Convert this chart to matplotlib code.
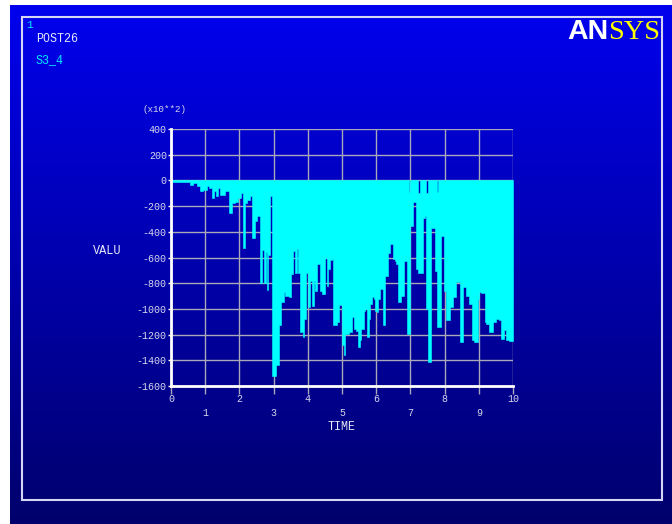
import numpy as np
import matplotlib
matplotlib.use("Agg")
import matplotlib.pyplot as plt
from matplotlib.patches import Rectangle

# ---------------- data (units of 10**2) ----------------
time = [0.00, 0.30, 0.55, 0.65, 0.75, 0.85, 0.95, 1.05, 1.10, 1.20,
        1.25, 1.33, 1.38, 1.44, 1.58, 1.70, 1.78, 1.87, 1.97, 2.04,
        2.10, 2.16, 2.22, 2.30, 2.36, 2.46, 2.52, 2.60, 2.67, 2.72,
        2.77, 2.80, 2.85, 2.90, 2.94, 3.08, 3.15, 3.22, 3.29, 3.33,
        3.45, 3.52, 3.57, 3.62, 3.67, 3.72, 3.78, 3.86, 3.88, 3.95,
        4.00, 4.07, 4.12, 4.17, 4.22, 4.26, 4.36, 4.41, 4.51, 4.55,
        4.60, 4.65, 4.70, 4.75, 4.85, 4.90, 5.00, 5.05, 5.10, 5.20,
        5.30, 5.35, 5.40, 5.46, 5.52, 5.56, 5.63, 5.68, 5.72, 5.78,
        5.83, 5.88, 5.93, 5.97, 6.02, 6.06, 6.11, 6.20, 6.25, 6.35,
        6.40, 6.49, 6.54, 6.59, 6.64, 6.72, 6.82, 6.91, 6.96, 7.00,
        7.08, 7.17, 7.22, 7.27, 7.37, 7.42, 7.45, 7.51, 7.61, 7.71,
        7.78, 7.81, 7.90, 7.98, 8.05, 8.15, 8.24, 8.34, 8.44, 8.53,
        8.63, 8.70, 8.80, 8.87, 8.97, 9.02, 9.07, 9.17, 9.21, 9.31,
        9.41, 9.50, 9.60, 9.65, 9.73, 9.80, 9.89, 10.00]
s3_min = [-12, -14, -34, -20, -40, -86, -78, -45, -60, -135,
          -80, -120, -60, -110, -85, -254, -176, -170, -140, -100,
          -524, -176, -150, -120, -445, -318, -280, -800, -540, -800,
          -560, -850, -580, -120, -1520, -1437, -1128, -948, -871, -897,
          -910, -730, -550, -717, -536, -717, -1180, -1218, -1077, -717,
          -987, -780, -974, -780, -858, -652, -858, -884, -600, -820,
          -691, -620, -608, -1128, -1100, -969, -1283, -1360, -1193, -1180,
          -1064, -1154, -1170, -1296, -1240, -1154, -1013, -1000, -1218, -1077,
          -961, -910, -925, -1013, -1025, -925, -845, -1128, -742, -562,
          -498, -614, -627, -652, -948, -897, -627, -1193, -1193, -356,
          -171, -691, -717, -717, -292, -279, -1000, -1412, -369, -704,
          -1141, -1141, -433, -858, -1090, -987, -910, -794, -1257, -832,
          -897, -961, -1244, -1257, -923, -871, -880, -1103, -1116, -1180,
          -1103, -1077, -1090, -1231, -1167, -1244, -1250, -1250]
s3_max = [3, 3, 3, 3, 3, 3, 3, 3, 3, 3,
          3, 3, 3, 3, 3, 3, 3, 3, 3, 3,
          3, 3, 3, 3, 3, 3, 3, 3, 3, 3,
          3, 3, 3, 3, 3, 3, 3, 3, 3, 3,
          3, 3, 3, 3, 3, 3, 3, 3, 3, 3,
          3, 3, 3, 3, 3, 3, 3, 3, 3, 3,
          3, 3, 3, 3, 3, 3, 3, 3, 3, 3,
          3, 3, 3, 3, 3, 3, 3, 3, 3, 3,
          3, 3, 3, 3, 3, 3, 3, 3, 3, 3,
          3, 3, 3, 3, 3, 3, 3, 3, -90, 3,
          3, 3, -95, 3, 3, 3, -95, 3, 3, 3,
          -90, 3, 3, 3, 3, 3, 3, 3, 3, 3,
          3, 3, 3, 3, 3, 3, 3, 3, 3, 3,
          3, 3, 3, 3, 3, 3, 3, 3]
assert len(time) == len(s3_min) == len(s3_max)

x_ticks = [0, 1, 2, 3, 4, 5, 6, 7, 8, 9, 10]
x_tick_labels = ["0", "1", "2", "3", "4", "5", "6", "7", "8", "9", "10"]
y_ticks = [400, 200, 0, -200, -400, -600, -800, -1000, -1200, -1400, -1600]
y_tick_labels = ["400", "200", "0", "-200", "-400", "-600", "-800", "-1000",
                 "-1200", "-1400", "-1600"]

# ---------------- figure ----------------
W, H = 672, 524
fig = plt.figure(figsize=(W / 100, H / 100), dpi=100)

bg = fig.add_axes([0, 0, 1, 1])
bg.set_xlim(0, W)
bg.set_ylim(H, 0)
bg.axis("off")
bg.add_patch(Rectangle((0, 0), W, H, color="white", zorder=0))
grad = np.linspace(0, 1, 256)[:, None]
top_c = np.array([0, 0, 238]) / 255
bot_c = np.array([0, 0, 108]) / 255
img = top_c[None, None, :] * (1 - grad[..., None]) + bot_c[None, None, :] * grad[..., None]
bg.imshow(img, extent=(10, W, H, 5), aspect="auto", zorder=1, interpolation="bilinear")
bg.add_patch(Rectangle((22, 17), 640, 483, fill=False, edgecolor="#d4d4f4", lw=1.5, zorder=2))

mono = ["Liberation Mono", "DejaVu Sans Mono"]
bg.text(26, 25.5, "1", color="#00e8ff", fontsize=8, family=mono, va="center", ha="left", zorder=3)
bg.text(36, 39, "POST26", color="#e8e8f8", fontsize=8.4, family=mono, va="center", ha="left", zorder=3)
bg.text(36, 60, "S3_4", color="#00e8ff", fontsize=8.4, family=mono, va="center", ha="left", zorder=3)
bg.text(142, 110, "(x10**2)", color="#d8d8ec", fontsize=6.6, family=mono, va="center", ha="left", zorder=3)
bg.text(107, 251, "VALU", color="#e8e8f8", fontsize=8.6, family=mono, va="center", ha="center", zorder=3)
bg.text(342, 427, "TIME", color="#e8e8f8", fontsize=8.4, family=mono, va="center", ha="center", zorder=3)
bg.text(608, 39, "AN", color="white", fontsize=20.5, fontweight="bold",
        family=["Liberation Sans", "DejaVu Sans"], va="baseline", ha="right", zorder=3)
bg.text(608, 39, "SYS", color="#ffff00", fontsize=20.5,
        family=["Liberation Serif", "DejaVu Serif"], va="baseline", ha="left", zorder=3)

# ---------------- plot axes ----------------
L, R, T, B = 171, 513, 129, 386
ax = fig.add_axes([L / W, (H - B) / H, (R - L) / W, (B - T) / H])
ax.set_facecolor("none")
ax.set_xlim(0, 10)
ax.set_ylim(-1600, 400)

grid_c = "#a8a8b8"
for xv in x_ticks:
    ax.axvline(xv, color=grid_c, lw=1, zorder=1)
for yv in y_ticks:
    ax.axhline(yv, color=grid_c, lw=1, zorder=1)

ax.fill_between(time, s3_min, s3_max, step="post", color="#00ffff", lw=0.4,
                edgecolor="#00ffff", zorder=2)

for s in ["top", "right"]:
    ax.spines[s].set_visible(False)
for s in ["left", "bottom"]:
    ax.spines[s].set_color("white")
    ax.spines[s].set_linewidth(2)
    ax.spines[s].set_zorder(3)

ax.set_xticks(x_ticks)
ax.set_xticklabels([lab if i % 2 == 0 else "\n" + lab for i, lab in enumerate(x_tick_labels)])
ax.set_yticks(y_ticks)
ax.set_yticklabels(y_tick_labels)
ax.tick_params(axis="x", colors=grid_c, length=6, width=1, pad=0, labelsize=7.2)
ax.tick_params(axis="y", colors="white", length=2, width=1, pad=1, labelsize=7.2)
for lab in ax.get_xticklabels():
    lab.set_color("#d8d8ec")
    lab.set_family(mono)
    lab.set_linespacing(1.4)
for lab in ax.get_yticklabels():
    lab.set_color("#d8d8ec")
    lab.set_family(mono)

fig.savefig("out.png", dpi=100)
